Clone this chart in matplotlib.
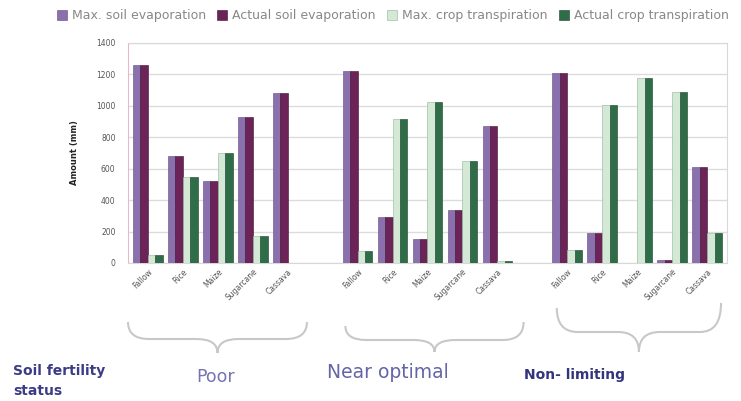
import numpy as np
import matplotlib.pyplot as plt
from matplotlib.path import Path
from matplotlib.patches import PathPatch
from matplotlib.transforms import blended_transform_factory

# categories (5 per soil fertility group)
crops = ['Fallow', 'Rice', 'Maize', 'Sugarcane', 'Cassava']
groups = ['Poor', 'Near optimal', 'Non- limiting']

# values (mm), one list per series, 15 entries (3 groups x 5)
max_soil_evap = [1260, 680, 520, 930, 1080,
                 1220, 295, 150, 340, 870,
                 1210, 190, 0, 20, 610]
act_soil_evap = [1260, 680, 520, 930, 1080,
                 1220, 295, 150, 340, 870,
                 1210, 190, 0, 20, 610]
max_crop_transp = [50, 550, 700, 175, 0,
                   75, 915, 1025, 650, 10,
                   85, 1005, 1180, 1090, 190]
act_crop_transp = [50, 550, 700, 175, 0,
                   75, 915, 1025, 650, 10,
                   85, 1005, 1180, 1090, 190]

series = [
    ('Max. soil evaporation', max_soil_evap, '#8a70ad', '#5e4a80'),
    ('Actual soil evaporation', act_soil_evap, '#6b2358', '#3e1032'),
    ('Max. crop transpiration', max_crop_transp, '#d3e8d5', '#8fb497'),
    ('Actual crop transpiration', act_crop_transp, '#2f6d49', '#1b4029'),
]

W, H = 741, 401
fig = plt.figure(figsize=(W / 100, H / 100), dpi=100)
ax = fig.add_axes([128 / W, 1 - 263 / H, (727 - 128) / W, (263 - 43) / H])

# slot positions: 5 crops, one empty slot, 5 crops, one empty slot, 5 crops
slots = np.array([g * 6 + c for g in range(3) for c in range(5)], dtype=float)
bw = 0.2125
for k, (lab, vals, fc, ec) in enumerate(series):
    ax.bar(slots - 0.425 + bw * (k + 0.5), vals, width=bw, color=fc,
           edgecolor=ec, linewidth=0.4, label=lab, zorder=3)

ax.set_ylim(0, 1400)
ax.set_yticks(np.arange(0, 1401, 200))
ax.set_xlim(-0.57, 16.57)
ax.grid(axis='y', color='#dcdcdc', linewidth=1.0, zorder=0)
for s in ['top', 'right', 'bottom']:
    ax.spines[s].set_color('#d8d8d8')
ax.spines['left'].set_color('#e6b8c8')
ax.tick_params(axis='y', length=0, labelsize=5.5, labelcolor='#555555', pad=9)
ax.tick_params(axis='x', length=0, labelsize=5.5, labelcolor='#555555', pad=3)
ax.set_xticks(slots)
ax.set_xticklabels(crops * 3, rotation=45, ha='right', rotation_mode='anchor')
ax.set_ylabel('Amount (mm)', fontsize=6, color='#222222', fontweight='bold', labelpad=12)

fig.legend(loc='upper center', bbox_to_anchor=(0.53, 1.005), ncol=4, frameon=False,
           fontsize=9, labelcolor='#888888', handlelength=0.8, handleheight=0.8,
           handletextpad=0.4, columnspacing=0.9)

# curly braces under each group
tr = blended_transform_factory(ax.transData, fig.transFigure)


def brace(x0, x1, yt0, yt1, ym, yb, q=0.6):
    xc = (x0 + x1) / 2
    fy = lambda y: 1 - y / H
    verts = [(x0, fy(yt0)), (x0, fy(ym)), (x0 + q, fy(ym)),
             (xc - q, fy(ym)), (xc, fy(ym)), (xc, fy(yb)),
             (xc, fy(ym)), (xc + q, fy(ym)),
             (x1 - q, fy(ym)), (x1, fy(ym)), (x1, fy(yt1))]
    codes = [Path.MOVETO, Path.CURVE3, Path.CURVE3,
             Path.LINETO, Path.CURVE3, Path.CURVE3,
             Path.CURVE3, Path.CURVE3,
             Path.LINETO, Path.CURVE3, Path.CURVE3]
    ax.add_patch(PathPatch(Path(verts, codes), transform=tr, fill=False,
                           edgecolor='#c8c8c8', linewidth=1.5, clip_on=False))


brace(-0.57, 4.55, 322, 322, 339, 353)
brace(5.65, 10.75, 326, 322, 340, 352)
brace(11.7, 16.4, 308, 303, 332, 352)

fig.text(13 / W, 1 - 371 / H, 'Soil fertility', fontsize=10, fontweight='bold',
         color='#3c3c86', va='center', ha='left')
fig.text(13 / W, 1 - 391 / H, 'status', fontsize=10, fontweight='bold',
         color='#3c3c86', va='center', ha='left')
fig.text(216 / W, 1 - 377 / H, groups[0], fontsize=12.5, color='#7474b4', ha='center', va='center')
fig.text(388 / W, 1 - 372 / H, groups[1], fontsize=13.5, color='#6464a8', ha='center', va='center')
fig.text(574 / W, 1 - 375 / H, groups[2], fontsize=10, fontweight='bold', color='#34347e',
         ha='center', va='center')

fig.savefig('out.png', dpi=100)
